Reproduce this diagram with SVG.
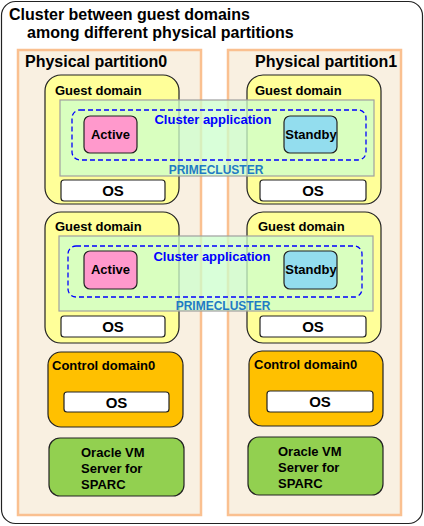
<svg xmlns="http://www.w3.org/2000/svg" width="424" height="526" viewBox="0 0 424 526">
<style>
text{font-family:"Liberation Sans",Arial,sans-serif;font-weight:bold;fill:#000}
.part{fill:#F9F0E1;stroke:#FAC090;stroke-width:2.5}
.guest{fill:#FFFF99;stroke:#222;stroke-width:1.2}
.ctrl{fill:#FFC000;stroke:#222;stroke-width:1.2}
.ovm{fill:#92D050;stroke:#222;stroke-width:1.2}
.os{fill:#FFFFFF;stroke:#222;stroke-width:1.2}
.pc{fill:#CCFFCC;fill-opacity:0.75;stroke:#A0A0A0;stroke-width:1.2}
.ca{fill:none;stroke:#0000FF;stroke-width:1.3;stroke-dasharray:5 3}
.act{fill:#FF99CC;stroke:#222;stroke-width:1.2}
.sby{fill:#93DDEE;stroke:#222;stroke-width:1.2}
.t13{font-size:13px}
.t16{font-size:16px}
.ost{font-size:15px}
.cat{font-size:13px;fill:#0000FF}
.pct{font-size:12px;fill:#1F7BC4}
</style>
<g id="frame">
<rect x="1.5" y="1.5" width="421" height="522" rx="14" fill="#FFFFFF" stroke="#222" stroke-width="1.2"/>
<text class="t16" x="9" y="20">Cluster between guest domains</text>
<text class="t16" x="27" y="38">among different physical partitions</text>
</g>
<g id="partition0">
<rect class="part" x="18" y="50" width="183" height="465"/>
<text class="t16" x="25" y="67">Physical partition0</text>
</g>
<g id="partition1">
<rect class="part" x="228" y="50" width="173" height="465"/>
<text class="t16" x="255" y="67">Physical partition1</text>
</g>
<g id="guest0a">
<rect class="guest" x="45" y="75" width="134" height="129" rx="16"/>
<text class="t13" x="55" y="95">Guest domain</text>
</g>
<g id="guest1a">
<rect class="guest" x="247" y="75" width="134" height="129" rx="16"/>
<text class="t13" x="255" y="95">Guest domain</text>
</g>
<g id="guest0b">
<rect class="guest" x="45" y="212" width="134" height="131" rx="16"/>
<text class="t13" x="55" y="231">Guest domain</text>
</g>
<g id="guest1b">
<rect class="guest" x="247" y="212" width="134" height="131" rx="16"/>
<text class="t13" x="258" y="231">Guest domain</text>
</g>
<g id="primecluster1">
<rect class="pc" x="60" y="100" width="314" height="76"/>
<rect class="ca" x="72" y="110" width="294" height="50" rx="8"/>
<text class="cat" x="213" y="124" text-anchor="middle">Cluster application</text>
<text class="pct" x="216" y="174" text-anchor="middle">PRIMECLUSTER</text>
</g>
<g id="active1">
<rect class="act" x="84" y="116" width="53" height="37" rx="6"/>
<text class="t13" x="110.5" y="139" text-anchor="middle">Active</text>
</g>
<g id="standby1">
<rect class="sby" x="284" y="116" width="53" height="37" rx="6"/>
<text class="t13" x="311" y="139" text-anchor="middle">Standby</text>
</g>
<g id="primecluster2">
<rect class="pc" x="59" y="236" width="314" height="75"/>
<rect class="ca" x="68" y="246" width="294" height="51" rx="8"/>
<text class="cat" x="212" y="261" text-anchor="middle">Cluster application</text>
<text class="pct" x="223" y="310" text-anchor="middle">PRIMECLUSTER</text>
</g>
<g id="active2">
<rect class="act" x="84" y="251" width="53" height="38" rx="6"/>
<text class="t13" x="110.5" y="274" text-anchor="middle">Active</text>
</g>
<g id="standby2">
<rect class="sby" x="284" y="251" width="53" height="38" rx="6"/>
<text class="t13" x="311" y="274" text-anchor="middle">Standby</text>
</g>
<g id="os0a"><rect class="os" x="61" y="180" width="104" height="21" rx="3"/><text class="ost" x="113" y="196" text-anchor="middle">OS</text></g>
<g id="os1a"><rect class="os" x="260" y="180" width="106" height="21" rx="3"/><text class="ost" x="313" y="196" text-anchor="middle">OS</text></g>
<g id="os0b"><rect class="os" x="61" y="316" width="104" height="21" rx="3"/><text class="ost" x="113" y="332" text-anchor="middle">OS</text></g>
<g id="os1b"><rect class="os" x="260" y="316" width="106" height="21" rx="3"/><text class="ost" x="313" y="332" text-anchor="middle">OS</text></g>
<g id="control0">
<rect class="ctrl" x="48" y="352" width="135" height="75" rx="13"/>
<text class="t13" x="52" y="370">Control domain0</text>
<rect class="os" x="64" y="392" width="105" height="20" rx="3"/>
<text class="ost" x="116.5" y="408" text-anchor="middle">OS</text>
</g>
<g id="control1">
<rect class="ctrl" x="249" y="351" width="134" height="75" rx="13"/>
<text class="t13" x="254" y="369">Control domain0</text>
<rect class="os" x="267" y="391" width="106" height="21" rx="3"/>
<text class="ost" x="320" y="407" text-anchor="middle">OS</text>
</g>
<g id="ovm0">
<rect class="ovm" x="49" y="438" width="135" height="58" rx="11"/>
<text class="t13" x="81" y="457">Oracle VM</text>
<text class="t13" x="81" y="473">Server for</text>
<text class="t13" x="81" y="489">SPARC</text>
</g>
<g id="ovm1">
<rect class="ovm" x="248" y="437" width="135" height="58" rx="11"/>
<text class="t13" x="278" y="456">Oracle VM</text>
<text class="t13" x="278" y="472">Server for</text>
<text class="t13" x="278" y="488">SPARC</text>
</g>
</svg>
